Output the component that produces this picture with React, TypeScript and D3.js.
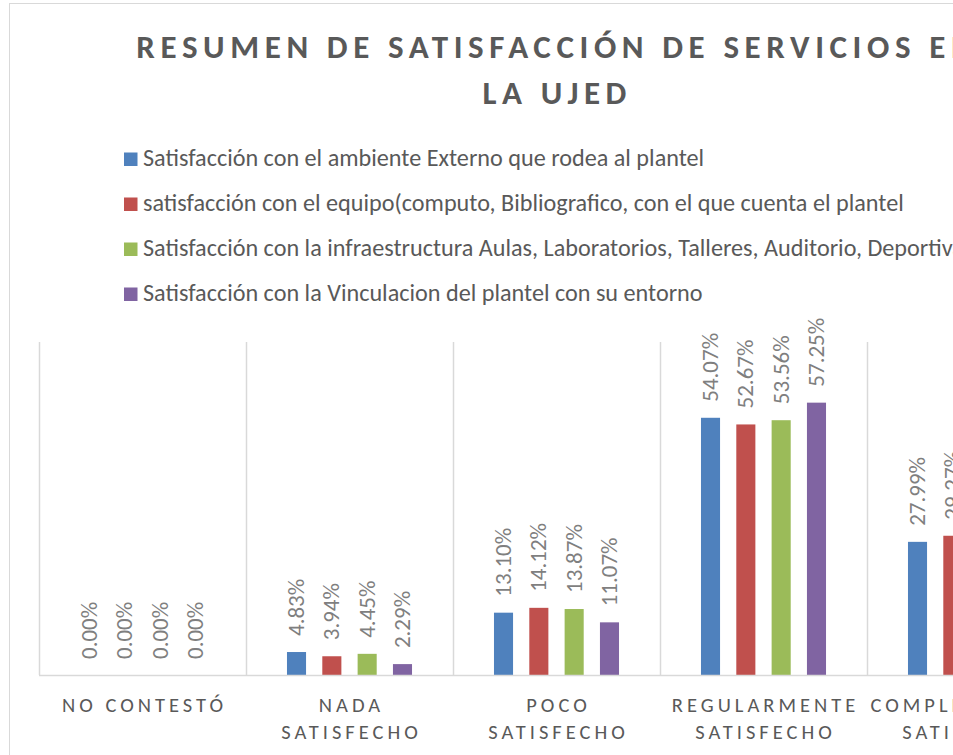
import React, { useRef, useEffect } from 'react';
import * as d3 from 'd3';

const categories = ['NO CONTESTÓ', 'NADA SATISFECHO', 'POCO SATISFECHO', 'REGULARMENTE SATISFECHO', 'COMPLETAMENTE SATISFECHO'];
const categoryLines = [['NO CONTESTÓ'], ['NADA', 'SATISFECHO'], ['POCO', 'SATISFECHO'], ['REGULARMENTE', 'SATISFECHO'], ['COMPLETAMENTE', 'SATISFECHO']];

const seriesNames = [
  'Satisfacción con el ambiente Externo que rodea al plantel',
  'satisfacción con el equipo(computo, Bibliografico, con el que cuenta el plantel',
  'Satisfacción con la infraestructura Aulas, Laboratorios, Talleres, Auditorio, Deportivas',
  'Satisfacción con la Vinculacion del plantel con su entorno',
];
const seriesColors = ['#4f81bd', '#c0504d', '#9bbb59', '#8064a2'];

// percent values per category
const ambienteExterno = [0, 4.83, 13.10, 54.07, 27.99];
const equipo = [0, 3.94, 14.12, 52.67, 29.27];
const infraestructura = [0, 4.45, 13.87, 53.56, 28.12];
const vinculacion = [0, 2.29, 11.07, 57.25, 29.39];
const seriesValues = [ambienteExterno, equipo, infraestructura, vinculacion];

const titleLines = ['RESUMEN DE SATISFACCIÓN DE SERVICIOS EN', 'LA UJED'];

const FONT = 'Carlito, Calibri, Lato, sans-serif';

const App = () => {
  const svgRef = useRef(null);

  useEffect(() => {
    document.body.style.margin = '0';
    const svg = d3.select(svgRef.current);
    svg.selectAll('*').remove();

    // full chart is wider than the window, right side gets cut off
    const frame = { x: 9.5, y: 3.5, w: 1094, h: 800 };
    const plot = { left: 39, top: 342, right: 1074, bottom: 675 };

    svg.append('rect')
      .attr('x', frame.x).attr('y', frame.y)
      .attr('width', frame.w).attr('height', frame.h)
      .attr('fill', '#fff').attr('stroke', '#d9d9d9');

    const cx = frame.x + frame.w / 2;
    const titleSpacing = 5.6;

    svg.append('g').selectAll('text')
      .data(titleLines)
      .enter().append('text')
      .attr('x', cx + titleSpacing / 2 - 2)
      .attr('y', (d, i) => 58 + i * 45.5)
      .attr('text-anchor', 'middle')
      .attr('font-family', FONT)
      .attr('font-weight', 'bold')
      .attr('font-size', 33)
      .attr('letter-spacing', titleSpacing)
      .attr('fill', '#595959')
      .text(d => d);

    // legend
    const legend = svg.append('g');
    seriesNames.forEach((name, i) => {
      const y = 166 + i * 45;
      legend.append('rect')
        .attr('x', 124).attr('y', y - 13.5)
        .attr('width', 13.5).attr('height', 13.5)
        .attr('fill', seriesColors[i]);
      legend.append('text')
        .attr('x', 143).attr('y', y)
        .attr('font-family', FONT)
        .attr('font-size', 24.2)
        .attr('fill', '#595959')
        .text(name);
    });

    const x = d3.scaleBand()
      .domain(categories)
      .range([plot.left, plot.right]);

    const xInner = d3.scaleBand()
      .domain(seriesNames)
      .range([0, x.bandwidth()])
      .paddingInner(0.46)
      .paddingOuter(1.16);

    const y = d3.scaleLinear()
      .domain([0, 70])
      .range([plot.bottom, plot.top]);

    // vertical gridlines at category boundaries
    const bounds = categories.map(c => x(c)).concat([plot.right]);
    svg.append('g').selectAll('line')
      .data(bounds)
      .enter().append('line')
      .attr('x1', d => d + 0.5).attr('x2', d => d + 0.5)
      .attr('y1', y(70)).attr('y2', y(0))
      .attr('stroke', '#d9d9d9').attr('stroke-width', 1.5);

    const groups = svg.append('g').selectAll('g')
      .data(categories)
      .enter().append('g')
      .attr('transform', d => `translate(${x(d)},0)`);

    groups.selectAll('rect')
      .data((d, ci) => seriesNames.map((s, si) => ({ s, si, v: seriesValues[si][ci] })))
      .enter().append('rect')
      .attr('x', d => xInner(d.s))
      .attr('y', d => y(d.v))
      .attr('width', xInner.bandwidth())
      .attr('height', d => y(0) - y(d.v))
      .attr('fill', d => seriesColors[d.si]);

    groups.selectAll('text')
      .data((d, ci) => seriesNames.map((s, si) => ({ s, si, v: seriesValues[si][ci] })))
      .enter().append('text')
      .attr('transform', d => `translate(${xInner(d.s) + xInner.bandwidth() / 2 + 7.5},${y(d.v) - 16}) rotate(-90)`)
      .attr('font-family', FONT)
      .attr('font-size', 23)
      .attr('fill', '#7f7f7f')
      .text(d => d.v.toFixed(2) + '%');

    // baseline
    svg.append('line')
      .attr('x1', plot.left).attr('x2', plot.right)
      .attr('y1', y(0) + 0.5).attr('y2', y(0) + 0.5)
      .attr('stroke', '#d9d9d9').attr('stroke-width', 1.5);

    // category labels
    const catSpacing = 4;
    groups.selectAll('text.cat')
      .data((d, ci) => categoryLines[ci])
      .enter().append('text')
      .attr('class', 'cat')
      .attr('x', x.bandwidth() / 2 + catSpacing / 2)
      .attr('y', (d, i) => 712 + i * 26.5)
      .attr('text-anchor', 'middle')
      .attr('font-family', FONT)
      .attr('font-size', 20.5)
      .attr('letter-spacing', catSpacing)
      .attr('fill', '#595959')
      .text(d => d);
  }, []);

  return <svg ref={svgRef} width={953} height={755} style={{ display: 'block' }} />;
};

export default App;
